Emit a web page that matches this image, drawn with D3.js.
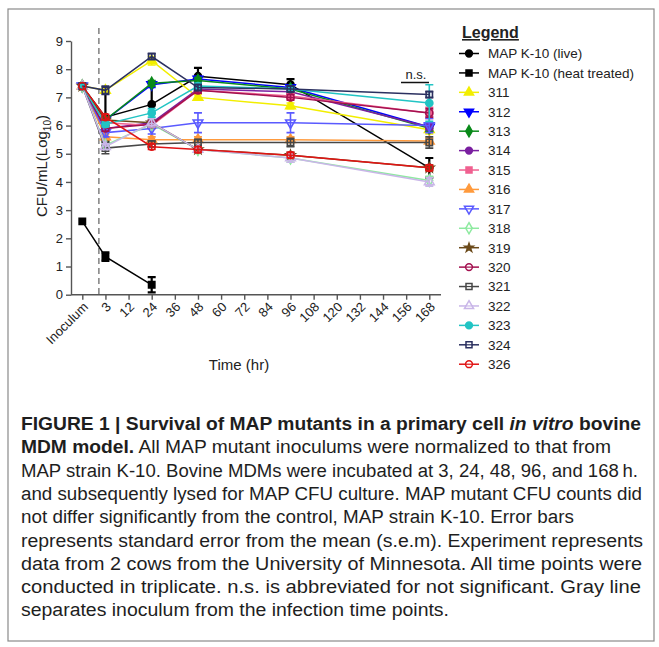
<!DOCTYPE html>
<html>
<head>
<meta charset="utf-8">
<script src="https://cdn.jsdelivr.net/npm/d3@7"></script>
<style>
  body { margin: 0; background: #fff; }
  text { font-family: "Liberation Sans", Arial, sans-serif; fill: #222; }
  .cap text { font-family: "Liberation Sans", Arial, sans-serif; fill: #1e1e1e; }
</style>
</head>
<body>
<svg id="fig" width="659" height="647"></svg>
<script>
// x axis categories (evenly spaced in the original plot)
var timeTicks = ['Inoculum', '3', '12', '24', '36', '48', '60', '72', '84', '96', '108', '120', '132', '144', '156', '168'];
var sampleTimes = ['Inoculum', '3', '24', '48', '96', '168'];
var yTicks = [0, 1, 2, 3, 4, 5, 6, 7, 8, 9];

var seriesNames = ['MAP K-10 (live)', 'MAP K-10 (heat treated)', '311', '312', '313', '314', '315', '316',
  '317', '318', '319', '320', '321', '322', '323', '324', '326'];

// mean CFU/mL (log10) at each sample time, one row per series
var meanLog = [
  [7.4, 6.3, 6.75, 7.75, 7.45, 4.5],
  [2.6, 1.35, 0.35, null, null, null],
  [7.4, 7.25, 8.3, 7.0, 6.7, 5.85],
  [7.4, 6.2, 7.45, 7.65, 7.35, 5.95],
  [7.4, 6.2, 7.5, 7.6, 7.3, 5.9],
  [7.4, 5.9, 6.1, 7.3, 7.2, 5.95],
  [7.4, 6.1, 6.0, 7.25, 7.05, 6.45],
  [7.4, 5.6, 5.5, 5.5, 5.5, 5.45],
  [7.4, 5.75, 5.9, 6.1, 6.1, 6.0],
  [7.4, 5.3, 6.05, 5.15, 4.85, 4.05],
  [7.4, 6.2, 6.1, 5.15, 4.95, 4.5],
  [7.4, 5.9, 6.05, 7.25, 7.0, 6.45],
  [7.4, 5.2, 5.35, 5.4, 5.4, 5.4],
  [7.4, 5.25, 6.1, 5.15, 4.85, 4.0],
  [7.4, 6.05, 6.45, 7.4, 7.3, 6.8],
  [7.4, 7.25, 8.45, 7.35, 7.3, 7.1],
  [7.4, 6.3, 5.25, 5.15, 4.95, 4.5]
];

// standard error of the mean, same layout
var semLog = [
  [0, 0.85, 0.8, 0.3, 0.2, 0.35],
  [0, 0.15, 0.27, null, null, null],
  [0, 0.1, 0.15, 0.1, 0.1, 0.15],
  [0, 0.1, 0.1, 0.1, 0.1, 0.15],
  [0, 0.1, 0.1, 0.1, 0.1, 0.1],
  [0, 0.1, 0.1, 0.1, 0.1, 0.1],
  [0, 0.1, 0.1, 0.1, 0.1, 0.2],
  [0, 0.1, 0.1, 0.1, 0.1, 0.1],
  [0, 0.15, 0.2, 0.35, 0.35, 0.25],
  [0, 0.1, 0.1, 0.1, 0.15, 0.15],
  [0, 0.1, 0.1, 0.1, 0.1, 0.1],
  [0, 0.1, 0.1, 0.1, 0.1, 0.15],
  [0, 0.2, 0.1, 0.1, 0.15, 0.2],
  [0, 0.1, 0.15, 0.1, 0.15, 0.15],
  [0, 0.1, 0.15, 0.1, 0.1, 0.65],
  [0, 0.15, 0.1, 0.1, 0.1, 0.1],
  [0, 0.1, 0.1, 0.1, 0.1, 0.1]
];

var seriesColors = ['#000000', '#000000', '#f2ee00', '#0000ff', '#0a8a1a', '#7a1fa0', '#f06090', '#ff9a3c',
  '#5a5aff', '#8eeaa0', '#6b4a1a', '#a3104f', '#474747', '#c9b6e8', '#22c4c4', '#2b3060', '#e01414'];
var seriesShapes = ['circle', 'square', 'triangle', 'down', 'diamond', 'circle', 'square', 'triangle',
  'down', 'diamond', 'star', 'circle', 'square', 'triangle', 'circle', 'square', 'circle'];
var seriesOpen = [false, false, false, false, false, false, false, false,
  true, true, false, true, true, true, false, true, true];

var svg = d3.select('#fig');

// outer frame
svg.append('rect').attr('x', 8).attr('y', 9).attr('width', 646).attr('height', 632)
  .attr('fill', 'none').attr('stroke', '#8a8a8a').attr('stroke-width', 1.2);

var x = d3.scalePoint().domain(timeTicks).range([82.3, 429.3]);
var y = d3.scaleLinear().domain([0, 9]).range([294.7, 41]);
var axisLeftX = 71, axisRightX = 441;

var g = svg.append('g');

// y axis
var yAx = g.append('g').attr('transform', 'translate(' + axisLeftX + ',0)')
  .call(d3.axisLeft(y).tickValues(yTicks).tickSize(5).tickSizeOuter(0).tickPadding(3));
yAx.select('.domain').attr('stroke', '#555').attr('stroke-width', 1.4);
yAx.selectAll('.tick line').attr('stroke', '#555').attr('stroke-width', 1.4);
yAx.selectAll('.tick text').style('font-size', '13px').attr('fill', '#222')
  .style('font-family', '"Liberation Sans", Arial, sans-serif');

// x axis
var xAx = g.append('g').attr('transform', 'translate(0,' + y(0) + ')')
  .call(d3.axisBottom(x).tickSize(5).tickSizeOuter(0));
xAx.select('.domain').remove();
xAx.append('line').attr('x1', axisLeftX).attr('x2', axisRightX)
  .attr('stroke', '#555').attr('stroke-width', 1.4);
xAx.selectAll('.tick line').attr('stroke', '#555').attr('stroke-width', 1.4);
xAx.selectAll('.tick text')
  .style('font-size', '13px').attr('fill', '#222')
  .style('font-family', '"Liberation Sans", Arial, sans-serif')
  .attr('text-anchor', 'end')
  .attr('y', 0).attr('dy', 0)
  .attr('transform', 'translate(6,13) rotate(-45)');

// gray dashed separator
var sepX = (x('Inoculum') + x('3')) / 2 + 5;
g.append('line').attr('x1', sepX).attr('x2', sepX).attr('y1', 28).attr('y2', y(0))
  .attr('stroke', '#888').attr('stroke-width', 1.6).attr('stroke-dasharray', '6,4');

function symbolPath(shape, size) {
  var types = { circle: d3.symbolCircle, square: d3.symbolSquare, triangle: d3.symbolTriangle,
    down: d3.symbolTriangle, diamond: d3.symbolDiamond, star: d3.symbolStar };
  return d3.symbol().type(types[shape]).size(shape === 'star' ? size * 0.6 : size)();
}

var line = d3.line()
  .defined(d => d.v != null)
  .x(d => x(d.t))
  .y(d => y(d.v));

seriesNames.forEach((name, i) => {
  var pts = sampleTimes.map((t, j) => ({ t: t, v: meanLog[i][j], e: semLog[i][j] }));
  var col = seriesColors[i];
  var sg = g.append('g');
  sg.append('path').datum(pts).attr('d', line)
    .attr('fill', 'none').attr('stroke', col).attr('stroke-width', 1.5);
  var ok = pts.filter(d => d.v != null && d.e > 0);
  sg.selectAll('.eb').data(ok).enter().append('path')
    .attr('d', d => {
      var cx = x(d.t), y1 = y(d.v - d.e), y2 = y(d.v + d.e);
      return 'M' + cx + ',' + y1 + 'V' + y2 + 'M' + (cx - 4) + ',' + y1 + 'H' + (cx + 4) + 'M' + (cx - 4) + ',' + y2 + 'H' + (cx + 4);
    })
    .attr('fill', 'none').attr('stroke', col).attr('stroke-width', i < 2 ? 2.2 : 1.6);
  sg.selectAll('.mk').data(pts.filter(d => d.v != null)).enter().append('path')
    .attr('d', symbolPath(seriesShapes[i], 40))
    .attr('transform', d => 'translate(' + x(d.t) + ',' + y(d.v) + ')' + (seriesShapes[i] === 'down' ? ' rotate(180)' : ''))
    .attr('fill', seriesOpen[i] ? 'none' : col)
    .attr('stroke', col).attr('stroke-width', 1.6);
});

// n.s. marker over the 168 h points
g.append('text').attr('x', 416).attr('y', 79).attr('text-anchor', 'middle')
  .style('font-size', '13px').text('n.s.');
g.append('line').attr('x1', 401).attr('x2', 429).attr('y1', 82.5).attr('y2', 82.5)
  .attr('stroke', '#111').attr('stroke-width', 1.5);

// axis titles
var yt = g.append('text').attr('transform', 'translate(47,166) rotate(-90)')
  .attr('text-anchor', 'middle').style('font-size', '15px');
yt.append('tspan').text('CFU/mL(Log');
yt.append('tspan').attr('dy', 4).style('font-size', '10px').text('10');
yt.append('tspan').attr('dy', -4).text(')');

g.append('text').attr('x', 239).attr('y', 370).attr('text-anchor', 'middle')
  .style('font-size', '15px').text('Time (hr)');

// legend
var lg = svg.append('g');
lg.append('text').attr('x', 462).attr('y', 38).style('font-size', '16px')
  .style('font-weight', 'bold').style('text-decoration', 'underline').text('Legend');
var row = lg.selectAll('.row').data(seriesNames).enter().append('g')
  .attr('transform', (d, i) => 'translate(0,' + (53.5 + i * 19.42) + ')');
row.append('line').attr('x1', 459).attr('x2', 479)
  .attr('stroke', (d, i) => seriesColors[i]).attr('stroke-width', 1.5);
row.append('path')
  .attr('d', (d, i) => symbolPath(seriesShapes[i], 36))
  .attr('transform', (d, i) => 'translate(469,0)' + (seriesShapes[i] === 'down' ? ' rotate(180)' : ''))
  .attr('fill', (d, i) => seriesOpen[i] ? '#fff' : seriesColors[i])
  .attr('stroke', (d, i) => seriesColors[i]).attr('stroke-width', 1.5);
row.filter((d, i) => seriesOpen[i]).append('line').attr('x1', 465).attr('x2', 473)
  .attr('stroke', (d) => seriesColors[seriesNames.indexOf(d)]).attr('stroke-width', 1.2);
row.append('text').attr('x', 488).attr('y', 4.8).style('font-size', '13.5px').text(d => d);

// caption
var cap = svg.append('g').attr('class', 'cap');
var capLines = [
  [['FIGURE 1 | Survival of MAP mutants in a primary cell ', 'b'], ['in vitro', 'bi'], [' bovine', 'b']],
  [['MDM model.', 'b'], [' All MAP mutant inoculums were normalized to that from', 'n']],
  [['MAP strain K-10. Bovine MDMs were incubated at 3, 24, 48, 96, and 168\u2009h.', 'n']],
  [['and subsequently lysed for MAP CFU culture. MAP mutant CFU counts did', 'n']],
  [['not differ significantly from the control, MAP strain K-10. Error bars', 'n']],
  [['represents standard error from the mean (s.e.m). Experiment represents', 'n']],
  [['data from 2 cows from the University of Minnesota. All time points were', 'n']],
  [['conducted in triplicate. n.s. is abbreviated for not significant. Gray line', 'n']],
  [['separates inoculum from the infection time points.', 'n']]
];
var capWidths = [620, 590, 617, 621, 553, 622, 621, 620, 428];
capLines.forEach((parts, i) => {
  var t = cap.append('text').attr('x', 21).attr('y', 430 + i * 23.3)
    .style('font-size', '18px')
    .attr('textLength', capWidths[i]).attr('lengthAdjust', 'spacingAndGlyphs');
  parts.forEach(p => {
    t.append('tspan').text(p[0])
      .style('font-weight', p[1] === 'n' ? 'normal' : 'bold')
      .style('font-style', p[1] === 'bi' ? 'italic' : 'normal');
  });
});
</script>
</body>
</html>
